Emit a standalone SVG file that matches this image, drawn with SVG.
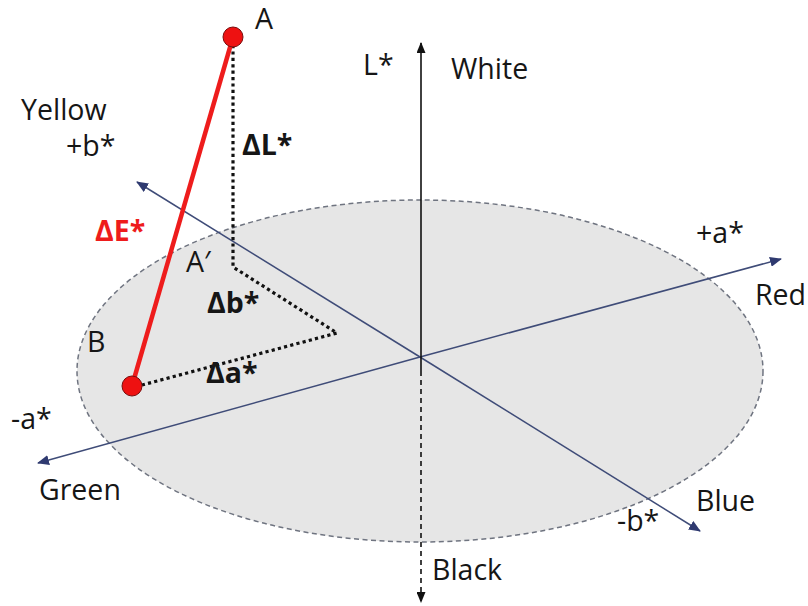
<svg xmlns="http://www.w3.org/2000/svg" width="808" height="606" viewBox="0 0 808 606">
<style>
  text { font-family: "Open Sans", "Noto Sans", "Liberation Sans", sans-serif; font-size: 28.5px; fill: #161616; }
  .b { font-weight: bold; }
  .red { fill: #ee1c1c; }
  .axis { stroke: #3f4c78; stroke-width: 1.5; fill: none; }
  .dot { stroke: #111; stroke-width: 3.2; stroke-dasharray: 3.2 3.2; fill: none; }
</style>
<defs>
  <marker id="ah" viewBox="0 0 12 10" refX="11" refY="5" markerWidth="12" markerHeight="10" markerUnits="userSpaceOnUse" orient="auto">
    <path d="M0,0 L12,5 L0,10 Z" fill="#2f3a70"/>
  </marker>
  <marker id="ak" viewBox="0 0 12 10" refX="11" refY="5" markerWidth="12" markerHeight="9" markerUnits="userSpaceOnUse" orient="auto">
    <path d="M0,0 L12,5 L0,10 Z" fill="#111"/>
  </marker>
</defs>
<g id="plane">
  <ellipse cx="420" cy="371" rx="343" ry="171" fill="#e6e6e6" stroke="#6f7480" stroke-width="1.5" stroke-dasharray="5 3.5"/>
</g>
<g id="connectors">
  <line class="axis" x1="420" y1="357" x2="781" y2="259" marker-end="url(#ah)"/>
  <line class="axis" x1="420" y1="357" x2="38" y2="463" marker-end="url(#ah)"/>
  <line class="axis" x1="420" y1="357" x2="137" y2="182" marker-end="url(#ah)"/>
  <line class="axis" x1="420" y1="357" x2="700" y2="531" marker-end="url(#ah)"/>
  <line x1="421" y1="371" x2="421" y2="43" stroke="#111" stroke-width="1.6" marker-end="url(#ak)"/>
  <line x1="421" y1="371" x2="421" y2="602" stroke="#111" stroke-width="1.6" stroke-dasharray="5 4" marker-end="url(#ak)"/>
  <polyline class="dot" points="233,45 233,267 337,333 142,385"/>
  <line x1="233" y1="37" x2="132" y2="386" stroke="#ee1c1c" stroke-width="4.5"/>
</g>
<g id="pointA">
  <circle cx="233" cy="37" r="10" fill="#ee1111" stroke="#7a0d0d" stroke-width="1"/>
  <text x="255" y="29" font-size="25">A</text>
</g>
<g id="pointB">
  <circle cx="132" cy="386" r="10" fill="#ee1111" stroke="#7a0d0d" stroke-width="1"/>
  <text x="87" y="352" font-size="26">B</text>
</g>
<g id="labels">
  <text x="363" y="75" font-size="26">L*</text>
  <text x="451" y="79">White</text>
  <text x="21" y="120">Yellow</text>
  <text x="66" y="156" font-size="27">+b*</text>
  <text class="b" x="242" y="155" font-size="26">ΔL*</text>
  <text class="b red" x="95" y="241" font-size="26.5">ΔE*</text>
  <text x="186" y="272" font-size="26">A′</text>
  <text class="b" x="207" y="313" font-size="26">Δb*</text>
  <text class="b" x="206" y="383" font-size="26">Δa*</text>
  <text x="696" y="243" font-size="26">+a*</text>
  <text x="755" y="305">Red</text>
  <text x="11" y="429" font-size="26">-a*</text>
  <text x="39" y="500">Green</text>
  <text x="696" y="511">Blue</text>
  <text x="617" y="531" font-size="26">-b*</text>
  <text x="432" y="580">Black</text>
</g>
</svg>
